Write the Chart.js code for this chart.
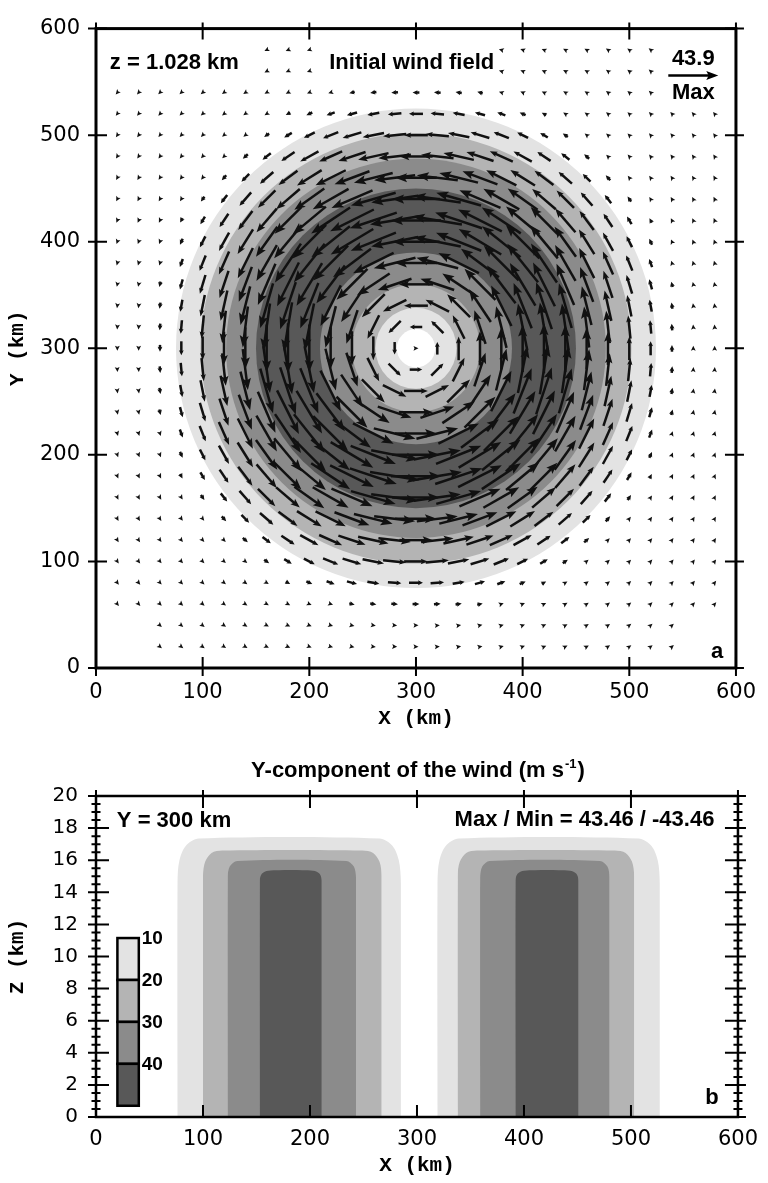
<!DOCTYPE html>
<html>
<head>
<meta charset="utf-8">
<script src="https://cdn.jsdelivr.net/npm/chart.js@4.4.0/dist/chart.umd.min.js"></script>
<style>
body { margin: 0; background: #fff; }
canvas { position: absolute; left: 0; }
#top { top: 0; }
#bot { top: 740px; }
</style>
</head>
<body>
<canvas id="top" width="768" height="740"></canvas>
<canvas id="bot" width="768" height="443"></canvas>
<script>
// ---- data ----
var xTicks = [0, 100, 200, 300, 400, 500, 600];
var yTicks = [0, 100, 200, 300, 400, 500, 600];
var zTicks = [0, 2, 4, 6, 8, 10, 12, 14, 16, 18, 20];

// vector grid (km)
var gridX = [20, 40, 60, 80, 100, 120, 140, 160, 180, 200, 220, 240, 260, 280, 300,
             320, 340, 360, 380, 400, 420, 440, 460, 480, 500, 520, 540, 560, 580];
var gridY = [20, 40, 60, 80, 100, 120, 140, 160, 180, 200, 220, 240, 260, 280, 300,
             320, 340, 360, 380, 400, 420, 440, 460, 480, 500, 520, 540, 560, 580];
var innerX = [60, 80, 100, 120, 140, 160, 180, 200, 220, 240, 260, 280, 300,
              320, 340, 360, 380, 400, 420, 440, 460, 480, 500, 520, 540];
var edgeRows = [20, 40, 560, 580];
var vortexCenter = [300, 300];

// tangential wind (m/s) against radius (km)
var profileR = [0, 10, 18, 28, 38, 50, 60, 75, 90, 105, 120, 135, 150, 165, 178, 190, 202, 214, 225, 240, 260, 290, 330, 400, 450];
var profileV = [0, 5.5, 10, 15, 20, 25.5, 30, 35.5, 40, 42.5, 43.9, 42.8, 40, 35, 30, 25, 20, 15, 10, 6, 3, 2, 1.5, 1.2, 1];
var maxWind = 43.9;

// shading levels
var levels = [10, 20, 30, 40];
var shades = ['#e3e3e3', '#b4b4b4', '#8b8b8b', '#585858'];
// rings of the top panel, outer to inner (km), level index (-1 = white)
var ringRadius = [225, 202, 178, 150, 90, 60, 38, 18];
var ringLevel = [0, 1, 2, 3, 2, 1, 0, -1];

// cross-section contours at Y = 300 km : [x km, z km]
var contL1a = [[76,0],[76,14.6],[78,16.0],[84,16.9],[96,17.35],[265,17.35],[277,16.9],[283,16.0],[285,14.6],[285,0]];
var contL1b = [[319,0],[319,14.6],[321,16.0],[327,16.9],[339,17.35],[507,17.35],[519,16.9],[525,16.0],[527,14.6],[527,0]];
var contL2a = [[100,0],[100,15.0],[102,15.9],[108,16.45],[118,16.6],[249,16.6],[259,16.45],[265,15.9],[267,15.0],[267,0]];
var contL2b = [[338,0],[338,15.0],[340,15.9],[346,16.45],[356,16.6],[485,16.6],[495,16.45],[501,15.9],[503,15.0],[503,0]];
var contL3a = [[123,0],[123,14.9],[125,15.6],[132,15.95],[234,15.95],[241,15.6],[243,14.9],[243,0]];
var contL3b = [[359,0],[359,14.9],[361,15.6],[368,15.95],[471,15.95],[478,15.6],[480,14.9],[480,0]];
var contL4a = [[153,0],[153,14.7],[155,15.15],[161,15.35],[203,15.35],[209,15.15],[211,14.7],[211,0]];
var contL4b = [[392,0],[392,14.7],[394,15.15],[400,15.35],[443,15.35],[449,15.15],[451,14.7],[451,0]];

var tickFont = { family: 'DejaVu Sans', size: 21 };
var titleFont = { family: 'Liberation Mono', size: 21, weight: 'bold' };
var labelFont = 'bold 22px "Liberation Sans", Arial, sans-serif';

function windAt(r) {
  for (var i = 1; i < profileR.length; i++) {
    if (r <= profileR[i]) {
      var t = (r - profileR[i - 1]) / (profileR[i] - profileR[i - 1]);
      return profileV[i - 1] + t * (profileV[i] - profileV[i - 1]);
    }
  }
  return profileV[profileV.length - 1];
}

var gridPoints = [];
gridY.forEach(function(y) {
  var cols = edgeRows.indexOf(y) >= 0 ? innerX : gridX;
  cols.forEach(function(x) {
    var dx = x - vortexCenter[0], dy = y - vortexCenter[1];
    var r = Math.sqrt(dx * dx + dy * dy);
    var s = windAt(r);
    var u = r > 0 ? -s * dy / r : 0;
    var v = r > 0 ? s * dx / r : 0;
    gridPoints.push({ x: x, y: y, u: u, v: v });
  });
});

var arrowScale = 50 / maxWind; // px per m/s

function drawArrow(ctx, px, py, u, v, centred) {
  var len = Math.sqrt(u * u + v * v) * arrowScale;
  var h = Math.min(12, Math.max(5, len * 0.3));
  var w = Math.max(2.4, h * 0.38);
  var ux = 1, uy = 0;
  if (len > 0) { ux = u * arrowScale / len; uy = -v * arrowScale / len; }
  var L = Math.max(len, h);
  var sx = centred ? px - ux * L / 2 : px, sy = centred ? py - uy * L / 2 : py;
  var tx = sx + ux * L, ty = sy + uy * L;
  if (len > h) {
    ctx.beginPath();
    ctx.moveTo(sx, sy);
    ctx.lineTo(tx - ux * h * 0.6, ty - uy * h * 0.6);
    ctx.stroke();
  }
  ctx.beginPath();
  ctx.moveTo(tx, ty);
  ctx.lineTo(tx - ux * h - uy * w, ty - uy * h + ux * w);
  ctx.lineTo(tx - ux * h * 0.8, ty - uy * h * 0.8);
  ctx.lineTo(tx - ux * h + uy * w, ty - uy * h - ux * w);
  ctx.closePath();
  ctx.fill();
}

function drawFrame(chart, o) {
  var ctx = chart.ctx, a = chart.chartArea, xs = chart.scales.x, ys = chart.scales.y;
  ctx.save();
  ctx.strokeStyle = '#000';
  ctx.lineWidth = o.tickWidth;
  ctx.beginPath();
  o.xTicks.forEach(function(val) {
    var px = xs.getPixelForValue(val);
    ctx.moveTo(px, a.bottom + o.xOutBottom); ctx.lineTo(px, a.bottom - o.xIn);
    ctx.moveTo(px, a.top - o.xOutTop); ctx.lineTo(px, a.top + o.xIn);
  });
  o.yTicks.forEach(function(val) {
    var py = ys.getPixelForValue(val);
    ctx.moveTo(a.left - o.yOut, py); ctx.lineTo(a.left + o.yIn, py);
    ctx.moveTo(a.right + o.yOut, py); ctx.lineTo(a.right - o.yIn, py);
  });
  if (o.yMinorStep) {
    for (var val = ys.min; val <= ys.max + 1e-9; val += o.yMinorStep) {
      var py = ys.getPixelForValue(val);
      ctx.moveTo(a.left - o.minor, py); ctx.lineTo(a.left + o.minor, py);
      ctx.moveTo(a.right + o.minor, py); ctx.lineTo(a.right - o.minor, py);
    }
  }
  ctx.stroke();
  ctx.lineWidth = o.frameWidth;
  ctx.strokeRect(a.left, a.top, a.right - a.left, a.bottom - a.top);
  ctx.restore();
}

function textAt(chart, str, x, y, align) {
  var ctx = chart.ctx;
  ctx.textAlign = align || 'left';
  ctx.textBaseline = 'alphabetic';
  ctx.fillText(str, chart.scales.x.getPixelForValue(x), chart.scales.y.getPixelForValue(y));
}

function fixedTicks(list) {
  return function(scale) { scale.ticks = list.map(function(v) { return { value: v }; }); };
}

// ---- top panel : wind vectors ----
var vortexPlugin = {
  id: 'vortex',
  beforeDatasetsDraw: function(chart) {
    var ctx = chart.ctx, xs = chart.scales.x, ys = chart.scales.y;
    var cx = xs.getPixelForValue(vortexCenter[0]), cy = ys.getPixelForValue(vortexCenter[1]);
    ctx.save();
    ringRadius.forEach(function(r, i) {
      var rx = xs.getPixelForValue(vortexCenter[0] + r) - cx;
      var ry = cy - ys.getPixelForValue(vortexCenter[1] + r);
      ctx.beginPath();
      ctx.ellipse(cx, cy, rx, ry, 0, 0, 2 * Math.PI);
      ctx.fillStyle = ringLevel[i] < 0 ? '#ffffff' : shades[ringLevel[i]];
      ctx.fill();
    });
    ctx.restore();
  },
  afterDatasetsDraw: function(chart) {
    var ctx = chart.ctx, xs = chart.scales.x, ys = chart.scales.y;
    var meta = chart.getDatasetMeta(0);
    ctx.save();
    ctx.strokeStyle = '#111';
    ctx.fillStyle = '#111';
    ctx.lineWidth = 2.5;
    ctx.lineCap = 'butt';
    meta.data.forEach(function(pt, i) {
      var g = gridPoints[i];
      drawArrow(ctx, pt.x, pt.y, g.u, g.v, true);
    });
    // label boxes hide the vectors behind them
    ctx.fillStyle = '#fff';
    [[1, 150, 548, 599], [212, 372, 548, 599], [528, 599, 530, 599]].forEach(function(b) {
      var x0 = xs.getPixelForValue(b[0]), x1 = xs.getPixelForValue(b[1]);
      var y0 = ys.getPixelForValue(b[3]), y1 = ys.getPixelForValue(b[2]);
      ctx.fillRect(x0, y0, x1 - x0, y1 - y0);
    });
    ctx.fillStyle = '#000';
    ctx.font = labelFont;
    textAt(chart, 'z = 1.028 km', 13, 562);
    textAt(chart, 'Initial wind field', 296, 562, 'center');
    textAt(chart, maxWind.toFixed(1), 560, 566, 'center');
    textAt(chart, 'Max', 560, 534, 'center');
    textAt(chart, 'a', 588, 9, 'right');
    // reference vector
    var refLen = maxWind * arrowScale;
    ctx.strokeStyle = '#000';
    ctx.lineWidth = 2.3;
    drawArrow(ctx, xs.getPixelForValue(560) - refLen / 2, ys.getPixelForValue(556), maxWind, 0, false);
    ctx.restore();
  },
  afterDraw: function(chart) {
    drawFrame(chart, { xTicks: xTicks, yTicks: yTicks, tickWidth: 2, frameWidth: 3,
      xIn: 11, xOutBottom: 8, xOutTop: 6, yIn: 11, yOut: 8 });
  }
};

new Chart(document.getElementById('top'), {
  type: 'scatter',
  data: { datasets: [{ data: gridPoints, pointRadius: 0, pointHoverRadius: 0 }] },
  options: {
    responsive: false,
    animation: false,
    devicePixelRatio: 1,
    events: [],
    layout: { padding: { left: 0, right: 22, top: 18, bottom: 0 } },
    plugins: { legend: { display: false }, tooltip: { enabled: false } },
    scales: {
      x: {
        type: 'linear', min: 0, max: 600,
        afterBuildTicks: fixedTicks(xTicks),
        afterFit: function(s) { s.height = 72; },
        grid: { display: false, drawTicks: false },
        border: { display: false },
        ticks: { font: tickFont, color: '#000', padding: 12, autoSkip: false, maxRotation: 0 },
        title: { display: true, text: 'X (km)', font: titleFont, color: '#000', padding: { top: 9, bottom: 9 } }
      },
      y: {
        type: 'linear', min: 0, max: 600,
        afterBuildTicks: fixedTicks(yTicks),
        afterFit: function(s) { s.width = 96; },
        grid: { display: false, drawTicks: false },
        border: { display: false },
        ticks: { font: tickFont, color: '#000', padding: 16, autoSkip: false },
        title: { display: true, text: 'Y (km)', font: titleFont, color: '#000', padding: { top: 5, bottom: 5 } }
      }
    }
  },
  plugins: [vortexPlugin]
});

// ---- bottom panel : Y-component cross-section ----
function contour(points, level) {
  return {
    data: points.map(function(p) { return { x: p[0], y: p[1] }; }),
    backgroundColor: shades[level],
    borderWidth: 0,
    pointRadius: 0,
    tension: 0.3,
    fill: 'origin'
  };
}

var sectionPlugin = {
  id: 'section',
  afterDatasetsDraw: function(chart) {
    var ctx = chart.ctx, xs = chart.scales.x, ys = chart.scales.y;
    ctx.save();
    ctx.fillStyle = '#000';
    ctx.font = labelFont;
    textAt(chart, 'Y = 300 km', 19.5, 18.05);
    textAt(chart, 'Max / Min = 43.46 / -43.46', 578, 18.15, 'right');
    textAt(chart, 'b', 582, 0.8, 'right');
    // colour bar
    var x0 = xs.getPixelForValue(20), x1 = xs.getPixelForValue(40);
    var zTop = 11.15, zBot = 0.7, step = (zTop - zBot) / levels.length;
    ctx.font = 'bold 19px "Liberation Sans", Arial, sans-serif';
    ctx.textBaseline = 'middle';
    ctx.textAlign = 'left';
    levels.forEach(function(lv, i) {
      var yTop = ys.getPixelForValue(zTop - i * step), yBot = ys.getPixelForValue(zTop - (i + 1) * step);
      ctx.fillStyle = shades[i];
      ctx.fillRect(x0, yTop, x1 - x0, yBot - yTop);
      ctx.strokeStyle = '#000';
      ctx.lineWidth = 2.5;
      ctx.strokeRect(x0, yTop, x1 - x0, yBot - yTop);
      ctx.fillStyle = '#000';
      ctx.fillText(String(lv), x1 + 3, yTop + 1);
    });
    ctx.restore();
  },
  afterDraw: function(chart) {
    drawFrame(chart, { xTicks: xTicks, yTicks: zTicks, yMinorStep: 0.5, tickWidth: 2, frameWidth: 2.5,
      xIn: 12, xOutBottom: 0, xOutTop: 6, yIn: 13, yOut: 8, minor: 4.5 });
    var ctx = chart.ctx, a = chart.chartArea;
    ctx.save();
    ctx.fillStyle = '#000';
    ctx.textBaseline = 'alphabetic';
    var main = 'Y-component of the wind (m s', sup = '-1', close = ')';
    ctx.font = labelFont;
    var w1 = ctx.measureText(main).width, w3 = ctx.measureText(close).width;
    ctx.font = 'bold 13px "Liberation Sans", Arial, sans-serif';
    var w2 = ctx.measureText(sup).width;
    var x = (a.left + a.right) / 2 - (w1 + w2 + w3) / 2, y = 37;
    ctx.font = labelFont;
    ctx.textAlign = 'left';
    ctx.fillText(main, x, y);
    ctx.font = 'bold 13px "Liberation Sans", Arial, sans-serif';
    ctx.fillText(sup, x + w1 + 1, y - 9);
    ctx.font = labelFont;
    ctx.fillText(close, x + w1 + w2 + 2, y);
    ctx.restore();
  }
};

new Chart(document.getElementById('bot'), {
  type: 'line',
  data: {
    datasets: [
      contour(contL4a, 3), contour(contL4b, 3),
      contour(contL3a, 2), contour(contL3b, 2),
      contour(contL2a, 1), contour(contL2b, 1),
      contour(contL1a, 0), contour(contL1b, 0)
    ]
  },
  options: {
    responsive: false,
    animation: false,
    devicePixelRatio: 1,
    events: [],
    layout: { padding: { left: 0, right: 22, top: 56, bottom: 0 } },
    plugins: { legend: { display: false }, tooltip: { enabled: false } },
    scales: {
      x: {
        type: 'linear', min: 0, max: 600,
        afterBuildTicks: fixedTicks(xTicks),
        afterFit: function(s) { s.height = 66; },
        grid: { display: false, drawTicks: false },
        border: { display: false },
        ticks: { font: tickFont, color: '#000', padding: 10, autoSkip: false, maxRotation: 0 },
        title: { display: true, text: 'X (km)', font: titleFont, color: '#000', padding: { top: 5, bottom: 5 } }
      },
      y: {
        type: 'linear', min: 0, max: 20,
        afterBuildTicks: fixedTicks(zTicks),
        afterFit: function(s) { s.width = 96; },
        grid: { display: false, drawTicks: false },
        border: { display: false },
        ticks: { font: { family: 'DejaVu Sans', size: 20 }, color: '#000', padding: 18, autoSkip: false },
        title: { display: true, text: 'Z (km)', font: titleFont, color: '#000', padding: { top: 5, bottom: 5 } }
      }
    }
  },
  plugins: [sectionPlugin]
});
</script>
</body>
</html>
